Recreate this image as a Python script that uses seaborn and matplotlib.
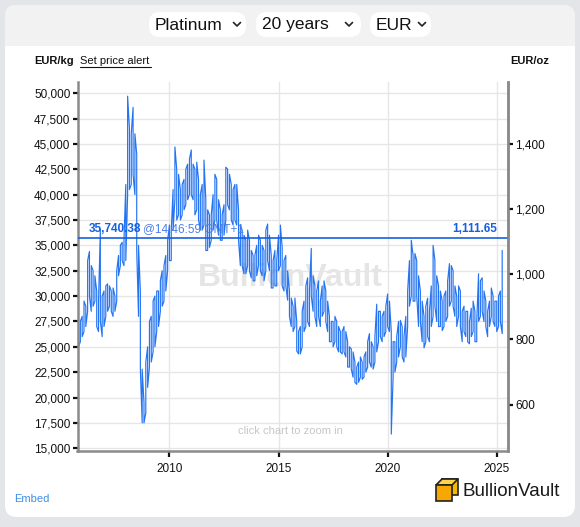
"""
Platinum price, 20 years, EUR per kg (BullionVault style chart)
"""

import matplotlib.pyplot as plt
import numpy as np
import pandas as pd
import seaborn as sns
from matplotlib.patches import FancyBboxPatch, Rectangle, Polygon

# -----------------------------
# Data (monthly low / high, thousand EUR per kg, from Oct 2005)
# -----------------------------
START_MONTH = "2005-10"

LOW_K = [
    24.2, 25.0, 25.5,
    26.0, 26.5, 27.0, 28.5, 30.0, 28.5, 29.0, 29.5, 27.0, 26.5, 27.5, 26.0,
    27.0, 28.0, 28.5, 29.0, 28.5, 28.0, 28.5, 29.5, 32.0, 33.0, 33.5, 33.0,
    33.5, 40.0, 40.5, 41.0, 42.0, 40.0, 34.5, 28.0, 22.8, 17.5, 17.5, 18.5,
    21.0, 23.0, 23.5, 24.5, 25.0, 26.5, 27.0, 28.5, 29.0, 29.5, 30.5, 32.5,
    33.5, 33.5, 36.5, 39.5, 37.5, 38.0, 37.5, 38.0, 38.5, 39.0, 39.5, 40.0,
    40.0, 39.5, 38.0, 38.5, 37.5, 36.5, 36.5, 37.0, 34.5, 34.5, 34.8, 35.5,
    36.5, 37.5, 37.5, 36.0, 35.5, 35.5, 36.0, 37.5, 39.0, 38.5, 37.5, 37.0,
    37.5, 37.0, 35.5, 33.0, 33.0, 32.2, 32.2, 33.0, 32.5, 31.8, 31.5, 31.5,
    32.0, 33.0, 32.5, 32.0, 31.5, 32.5, 33.5, 32.5, 30.8, 30.8, 31.0, 31.0,
    32.5, 33.0, 31.0, 30.5, 31.0, 29.6, 28.0, 27.0, 26.5, 27.0, 24.6, 24.3,
    24.3, 25.0, 26.5, 27.0, 27.5, 27.0, 30.0, 28.5, 28.0, 27.0, 28.0, 27.0,
    28.0, 28.5, 27.5, 26.5, 25.5, 25.5, 25.0, 25.5, 25.0, 24.5, 24.5, 24.3,
    24.5, 24.0, 23.0, 23.0, 22.8, 22.0, 21.5, 21.3, 21.5, 22.0, 21.8, 22.0,
    22.5, 23.0, 23.5, 23.0, 22.8, 23.5, 24.5, 25.5, 26.0, 25.5, 26.0, 26.5,
    27.0, 26.5, 16.4, 22.0, 22.5, 23.5, 24.0, 25.0, 24.0, 23.5, 24.0, 27.0,
    29.0, 30.0, 29.5, 29.5, 30.0, 27.0, 27.5, 25.5, 24.9, 25.5, 26.0, 25.5,
    27.0, 28.0, 29.0, 27.5, 27.0, 27.0, 26.6, 27.0, 27.5, 28.0, 29.0, 29.5,
    29.0, 28.0, 27.0, 28.0, 27.0, 25.5, 26.5, 26.0, 25.5, 25.3, 26.0, 26.5,
    25.5, 25.5, 27.5, 28.0, 28.5, 27.5, 27.0, 26.0, 27.0, 28.0, 27.5, 27.0,
    26.5, 27.0, 27.5, 26.3,
]

HIGH_K = [
    25.8, 26.6, 27.5,
    28.0, 29.5, 29.0, 33.5, 34.4, 33.0, 32.5, 32.0, 30.5, 29.5, 36.6, 30.0,
    30.5, 31.0, 31.2, 31.0, 30.5, 30.8, 30.0, 32.5, 34.0, 35.0, 35.3, 35.6,
    41.0, 49.7, 46.5, 46.0, 48.6, 46.0, 44.0, 35.0, 30.4, 22.8, 19.5, 23.5,
    25.0, 27.5, 28.0, 29.5, 30.0, 30.5, 30.5, 31.5, 32.5, 33.0, 34.0, 35.5,
    37.0, 36.5, 40.5, 44.7, 42.5, 42.0, 40.5, 41.0, 41.5, 42.5, 43.0, 43.5,
    44.4, 43.0, 42.5, 43.2, 41.5, 40.0, 41.0, 43.4, 39.5, 38.5, 38.0, 38.0,
    40.0, 42.0, 41.5, 39.5, 38.5, 38.0, 39.0, 42.7, 42.5, 42.0, 41.0, 40.5,
    41.0, 41.0, 38.5, 37.0, 36.5, 36.0, 35.5, 36.5, 35.5, 34.5, 34.0, 34.0,
    35.0, 36.0, 35.5, 35.0, 34.5, 36.5, 37.1, 36.0, 34.0, 33.5, 34.5, 33.5,
    36.0, 37.0, 34.8, 33.5, 34.0, 32.5, 30.5, 29.8, 29.0, 29.8, 27.5, 26.5,
    27.0, 28.5, 29.5, 31.0, 31.8, 30.5, 34.7, 32.0, 31.0, 30.5, 31.5, 29.5,
    31.0, 31.5, 30.5, 29.5, 28.0, 27.5, 27.5, 28.0, 27.5, 27.0, 26.5, 26.5,
    27.0, 26.5, 25.5, 25.0, 24.8, 24.5, 23.5, 23.0, 23.5, 24.0, 23.5, 24.0,
    24.5, 25.5, 26.3, 25.5, 25.0, 26.0, 29.2, 28.5, 28.5, 28.0, 28.5, 29.0,
    30.2, 29.5, 26.5, 25.5, 25.5, 26.0, 27.5, 27.6, 27.0, 26.0, 28.0, 30.5,
    33.5, 35.5, 34.0, 34.2, 33.5, 32.0, 30.5, 29.5, 28.0, 29.0, 29.8, 28.5,
    31.0, 35.0, 33.5, 32.0, 31.0, 30.5, 29.5, 30.0, 30.5, 31.5, 33.2, 33.0,
    32.5, 31.0, 30.0, 31.0, 30.5, 28.5, 29.0, 28.5, 28.5, 27.5, 28.8, 29.5,
    28.5, 27.5, 32.2, 31.5, 31.8, 30.5, 29.5, 28.5, 29.5, 30.8, 30.0, 29.5,
    29.5, 30.0, 30.5, 34.5,
]

CURRENT_KG = 35740.38
CURRENT_OZ = 1111.65
OZ_PER_KG = 32.1507

LEFT_TICKS = [15000, 17500, 20000, 22500, 25000, 27500, 30000, 32500,
              35000, 37500, 40000, 42500, 45000, 47500, 50000]
RIGHT_TICKS = [600, 800, 1000, 1200, 1400]
YEAR_TICKS = [2010, 2015, 2020, 2025]

# -----------------------------
# Style
# -----------------------------
W, H = 580, 527
BLUE = "#2474f2"
LINE_BLUE = "#1560e0"

sns.set_theme(style="white")
plt.rcParams["font.family"] = ["Liberation Sans", "DejaVu Sans"]


def build_frame() -> pd.DataFrame:
    # one zigzag path: each month is a vertical low-high stroke, alternating direction
    months = pd.period_range(START_MONTH, periods=len(LOW_K), freq="M")
    t = months.year + (months.month - 1) / 12.0
    rows = []
    for i, (tt, lo, hi) in enumerate(zip(t, LOW_K, HIGH_K)):
        first, second = (lo, hi) if i % 2 == 0 else (hi, lo)
        rows.append((tt, first * 1000))
        rows.append((tt, second * 1000))
    return pd.DataFrame(rows, columns=["year", "price"])


def px_axes(fig, left, top, right, bottom):
    return fig.add_axes([left / W, 1 - bottom / H, (right - left) / W, (bottom - top) / H])


def draw_frame(bg) -> None:
    bg.set_xlim(0, W)
    bg.set_ylim(H, 0)
    bg.axis("off")

    bg.add_patch(FancyBboxPatch((5, 5), 570, 512, boxstyle="round,pad=0,rounding_size=12",
                                fc="white", ec="none"))
    bg.add_patch(FancyBboxPatch((5, 5), 570, 60, boxstyle="round,pad=0,rounding_size=12",
                                fc="#f2f2f2", ec="none"))
    bg.add_patch(Rectangle((5, 46), 570, 30, fc="white", ec="none"))

    # dropdown pills
    pills = [(149, 246, "Platinum", 237), (256, 361, "20 years", 349), (370, 431, "EUR", 422)]
    for x0, x1, label, cx in pills:
        bg.add_patch(FancyBboxPatch((x0, 12), x1 - x0, 25, boxstyle="round,pad=0,rounding_size=11",
                                    fc="white", ec="none"))
        bg.text(x0 + 6, 25, label, fontsize=12.5, color="#111111", va="center", ha="left")
        bg.plot([cx - 3.5, cx, cx + 3.5], [22.5, 26, 22.5], color="#222222", lw=1.2)

    bg.text(34, 61, "EUR/kg", fontsize=8, fontweight="bold", color="#111111", va="center")
    bg.text(80, 61, "Set price alert", fontsize=8, color="#111111", va="center")
    bg.plot([80, 151], [66.5, 66.5], color="#111111", lw=0.8)
    bg.text(549, 61, "EUR/oz", fontsize=8, fontweight="bold", color="#111111", va="center", ha="right")

    bg.text(14, 499, "Embed", fontsize=8, color="#3d8fe8", va="center")

    # logo
    bg.add_patch(Rectangle((442, 479), 16, 16, fc="#f5b800", ec="#222222", lw=1.2))
    bg.add_patch(Polygon([[436, 485], [442, 479], [458, 479], [452, 485]], closed=True,
                         fc="#ffd24a", ec="#222222", lw=1.2))
    bg.add_patch(Rectangle((436, 485), 16, 16, fc="#f7a800", ec="#222222", lw=1.2))
    bg.text(462, 491, "BullionVault", fontsize=13.5, color="#1a1a1a", va="center", ha="left")


def draw_chart(ax, df: pd.DataFrame) -> None:
    ylim = (14730, 51100)
    xlim = (2005.786, 2025.53)

    ax.set_facecolor("white")
    sns.lineplot(data=df, x="year", y="price", sort=False, estimator=None,
                 color=BLUE, linewidth=0.85, ax=ax)

    ax.axhline(CURRENT_KG, color=LINE_BLUE, lw=1.2, zorder=4)

    ax.set_xlim(*xlim)
    ax.set_ylim(*ylim)
    ax.set_xticks(YEAR_TICKS)
    ax.set_xticklabels([str(y) for y in YEAR_TICKS], fontsize=8.5, color="#111111")
    ax.set_yticks(LEFT_TICKS)
    ax.set_yticklabels([f"{v:,}" for v in LEFT_TICKS], fontsize=8.5, color="#111111")
    ax.set_xlabel("")
    ax.set_ylabel("")

    ax.grid(True, color="#e6e6e6", lw=1)
    ax.set_axisbelow(True)
    ax.tick_params(axis="y", which="major", direction="out", length=3.5, width=1.6,
                   color="#111111", pad=1.5, left=True)
    ax.tick_params(axis="x", which="major", direction="out", length=4, width=1.6,
                   color="#111111", pad=5, bottom=True)

    for side in ["left", "bottom", "right"]:
        ax.spines[side].set_visible(True)
        ax.spines[side].set_color("#8a8a8a")
        ax.spines[side].set_linewidth(1.8)
    ax.spines["top"].set_visible(False)

    # watermark / hints
    ax.text(0.495, 0.47, "BullionVault", transform=ax.transAxes, fontsize=23,
            fontweight="bold", color="#e5e5e5", ha="center", va="center", zorder=0)
    ax.text(0.495, 0.055, "click chart to zoom in", transform=ax.transAxes, fontsize=8,
            color="#c6c6c6", ha="center", va="center")

    # current price labels
    ytr = ax.get_yaxis_transform()
    ax.text(0.025, CURRENT_KG + 250, f"{CURRENT_KG:,.2f}", transform=ytr,
            fontsize=8.5, fontweight="bold", color=LINE_BLUE, ha="left", va="bottom", zorder=5)
    ax.text(0.152, CURRENT_KG + 250, "@14:46:59 GMT+1", transform=ytr,
            fontsize=8.5, color="#4a80e6", ha="left", va="bottom", zorder=5)
    ax.text(0.975, CURRENT_KG + 250, f"{CURRENT_OZ:,.2f}", transform=ytr,
            fontsize=8.5, fontweight="bold", color=LINE_BLUE, ha="right", va="bottom", zorder=5)

    # right axis in EUR/oz
    ax2 = ax.twinx()
    ax2.set_ylim(ylim[0] / OZ_PER_KG, ylim[1] / OZ_PER_KG)
    ax2.set_yticks(RIGHT_TICKS)
    ax2.set_yticklabels([f"{v:,}" for v in RIGHT_TICKS], fontsize=8.5, color="#111111")
    ax2.tick_params(axis="y", direction="out", length=3.5, width=1.6, color="#111111",
                    pad=1.5, right=True)
    ax2.grid(False)
    for side in ["left", "bottom", "top"]:
        ax2.spines[side].set_visible(False)
    ax2.spines["right"].set_color("#8a8a8a")
    ax2.spines["right"].set_linewidth(1.8)


def main() -> None:
    df = build_frame()

    fig = plt.figure(figsize=(W / 100, H / 100), dpi=100)
    fig.patch.set_facecolor("#e4e5e9")

    bg = fig.add_axes([0, 0, 1, 1], zorder=0)
    draw_frame(bg)

    ax = px_axes(fig, 77.5, 82, 508.3, 451)
    ax.set_zorder(1)
    draw_chart(ax, df)

    fig.savefig("out.png", dpi=100, facecolor=fig.get_facecolor())
    plt.close(fig)


if __name__ == "__main__":
    main()
